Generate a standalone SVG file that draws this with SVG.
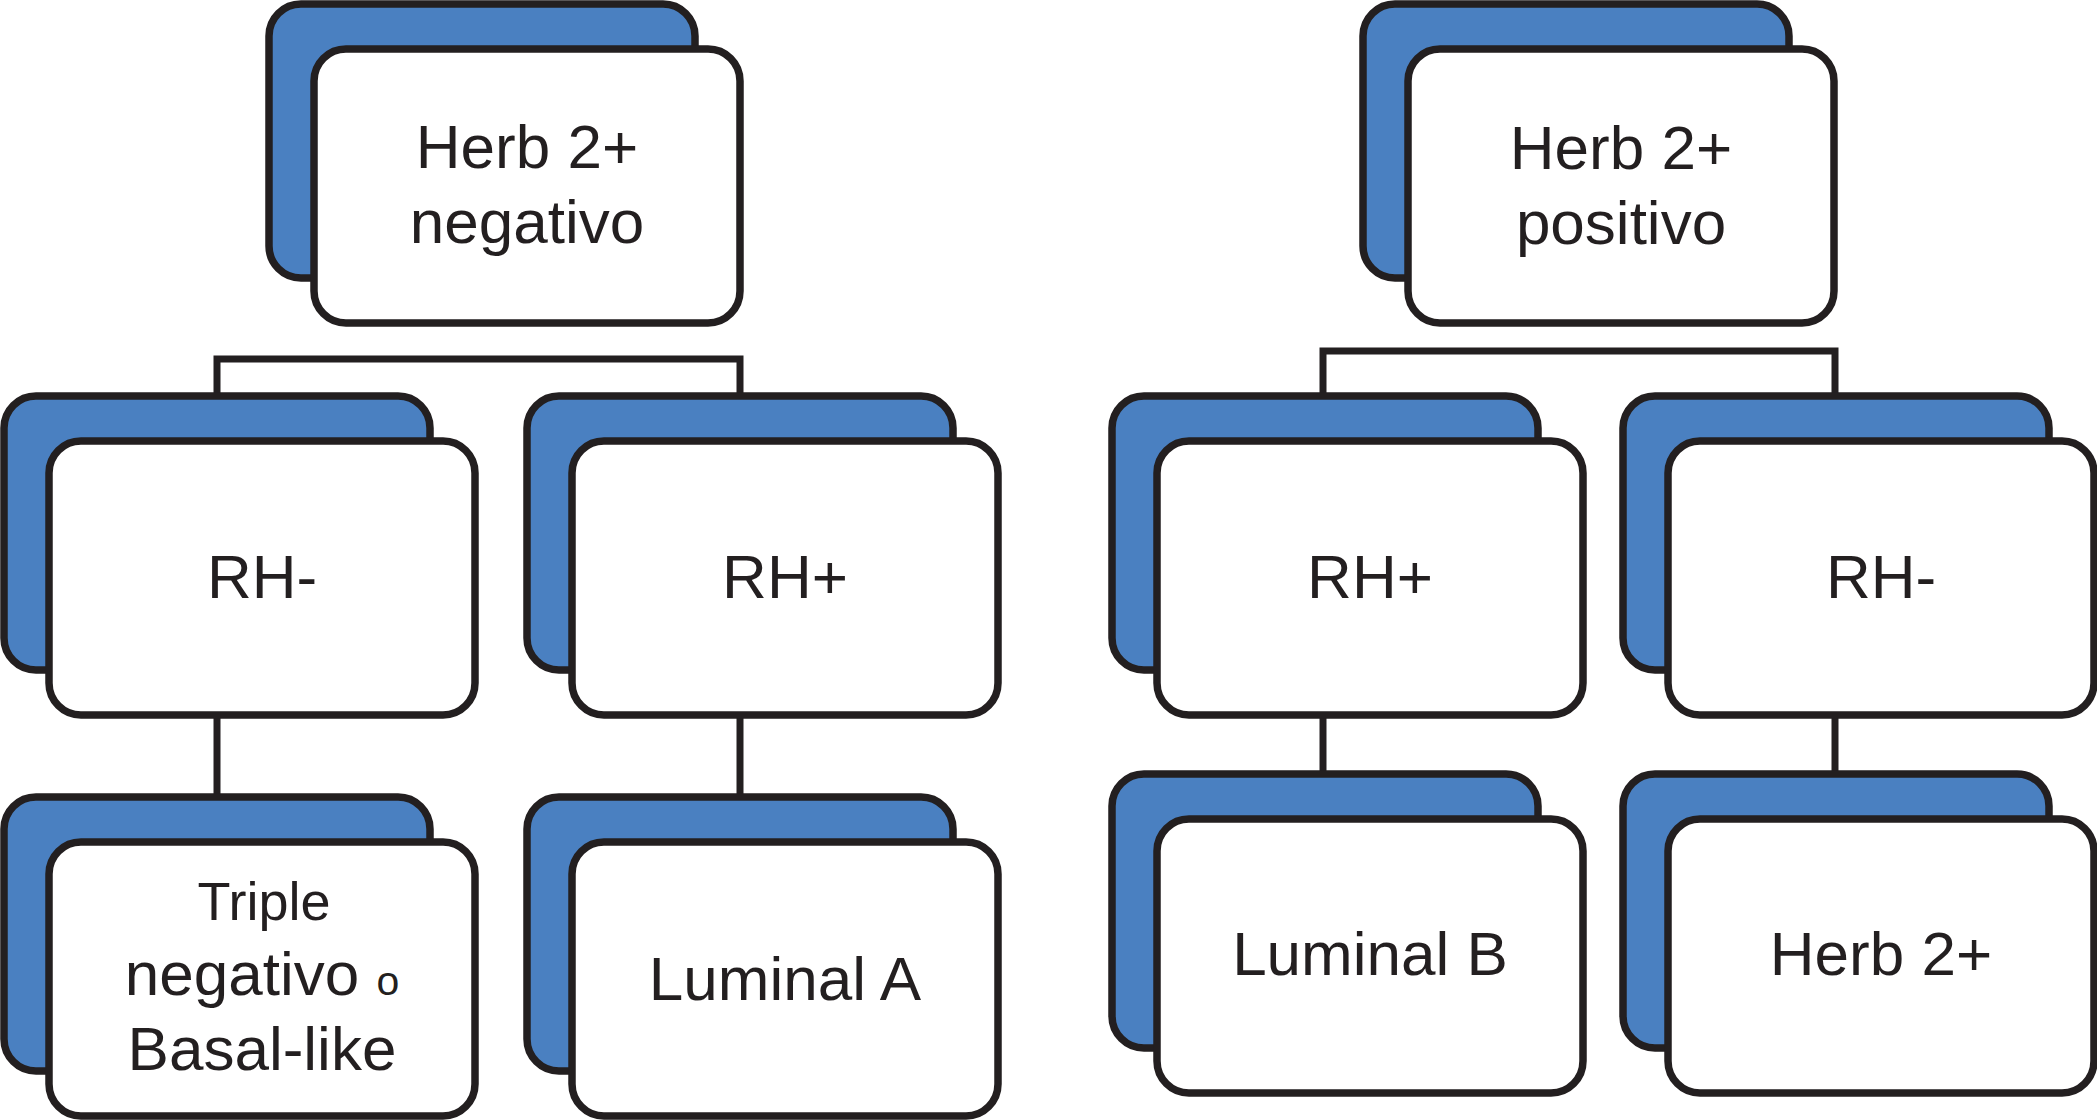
<svg xmlns="http://www.w3.org/2000/svg" width="2097" height="1120" viewBox="0 0 2097 1120">
<defs>
<style>
.back{fill:#4a80c1;stroke:#231f20;stroke-width:7.5}
.front{fill:#ffffff;stroke:#231f20;stroke-width:7.5}
.conn{fill:none;stroke:#231f20;stroke-width:7}
.lbl{font-family:"Liberation Sans",Arial,Helvetica,sans-serif;font-size:62px;fill:#231f20;text-anchor:middle}
</style>
</defs>
<rect width="2097" height="1120" fill="#ffffff"/>
<g id="connectors">
<path class="conn" d="M217,396 V359 H740 V396"/>
<path class="conn" d="M217,716 V797"/>
<path class="conn" d="M740,716 V797"/>
<path class="conn" d="M1323,396 V351 H1835 V396"/>
<path class="conn" d="M1323,716 V774"/>
<path class="conn" d="M1835,716 V774"/>
</g>
<g id="node-herb-negativo">
<rect class="back" x="269" y="4" width="426" height="274" rx="32"/>
<rect class="front" x="314" y="49" width="426" height="274" rx="32"/>
<text class="lbl" x="527" y="168">Herb 2+</text>
<text class="lbl" x="527" y="243">negativo</text>
</g>
<g id="node-rh-neg-left">
<rect class="back" x="4" y="396" width="426" height="274" rx="32"/>
<rect class="front" x="49" y="441" width="426" height="274" rx="32"/>
<text class="lbl" x="262" y="598">RH-</text>
</g>
<g id="node-rh-pos-left">
<rect class="back" x="527" y="396" width="426" height="274" rx="32"/>
<rect class="front" x="572" y="441" width="426" height="274" rx="32"/>
<text class="lbl" x="785" y="598">RH+</text>
</g>
<g id="node-triple">
<rect class="back" x="4" y="797" width="426" height="274" rx="32"/>
<rect class="front" x="49" y="842" width="426" height="274" rx="32"/>
<text class="lbl" x="264" y="920" style="font-size:54px">Triple</text>
<text class="lbl" x="262" y="995">negativo <tspan style="font-size:41px">o</tspan></text>
<text class="lbl" x="262" y="1070">Basal-like</text>
</g>
<g id="node-luminal-a">
<rect class="back" x="527" y="797" width="426" height="274" rx="32"/>
<rect class="front" x="572" y="842" width="426" height="274" rx="32"/>
<text class="lbl" x="785" y="1000">Luminal A</text>
</g>
<g id="node-herb-positivo">
<rect class="back" x="1363" y="4" width="426" height="274" rx="32"/>
<rect class="front" x="1408" y="49" width="426" height="274" rx="32"/>
<text class="lbl" x="1621" y="169">Herb 2+</text>
<text class="lbl" x="1621" y="244">positivo</text>
</g>
<g id="node-rh-pos-right">
<rect class="back" x="1112" y="396" width="426" height="274" rx="32"/>
<rect class="front" x="1157" y="441" width="426" height="274" rx="32"/>
<text class="lbl" x="1370" y="598">RH+</text>
</g>
<g id="node-rh-neg-right">
<rect class="back" x="1623" y="396" width="426" height="274" rx="32"/>
<rect class="front" x="1668" y="441" width="426" height="274" rx="32"/>
<text class="lbl" x="1881" y="598">RH-</text>
</g>
<g id="node-luminal-b">
<rect class="back" x="1112" y="774" width="426" height="274" rx="32"/>
<rect class="front" x="1157" y="819" width="426" height="274" rx="32"/>
<text class="lbl" x="1370" y="975">Luminal B</text>
</g>
<g id="node-herb2">
<rect class="back" x="1623" y="774" width="426" height="274" rx="32"/>
<rect class="front" x="1668" y="819" width="426" height="274" rx="32"/>
<text class="lbl" x="1881" y="975">Herb 2+</text>
</g>
</svg>
